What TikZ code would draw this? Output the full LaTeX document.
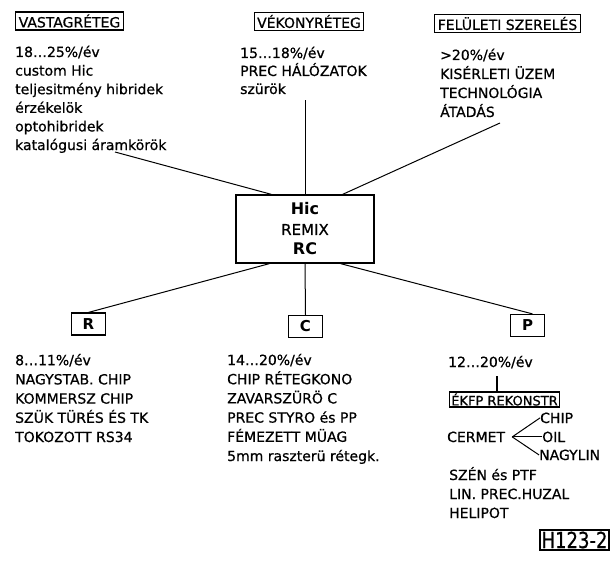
\documentclass[tikz,border=0pt]{standalone}
\usepackage{fontspec}
\setmainfont{DejaVu Sans}[UprightFeatures={FakeBold=0.7}]
\begin{document}
\begin{tikzpicture}[x=1pt,y=-1pt,
  txt/.style={anchor=base west, inner sep=0pt, align=left},
  hdr/.style={draw, line width=1.2pt, inner xsep=3pt, inner ysep=1.5pt, minimum height=18pt, font=\fontsize{14}{16}\selectfont},
  lbox/.style={draw, line width=1.2pt, minimum width=34pt, minimum height=22pt, inner sep=0pt, font=\bfseries\fontsize{15}{17}\selectfont},
  link/.style={line width=1pt}]
\useasboundingbox (0,0) rectangle (616,567);

% headers
\node[hdr] (vas) at (69.5,21) {VASTAGRÉTEG};
\node[hdr] (vek) at (309,21.5) {VÉKONYRÉTEG};
\node[hdr] (fel) at (507.5,23.5) {FELÜLETI SZERELÉS};

% top texts (anchored at the baseline of the last line)
\node[txt, font=\fontsize{14}{18.6}\selectfont] (tvas) at (15,150)
  {18…25\%/év\\custom Hic\\teljesitmény hibridek\\érzékelök\\optohibridek\\katalógusi áramkörök};
\node[txt, font=\fontsize{14}{18}\selectfont] (tvek) at (240,94)
  {15…18\%/év\\PREC HÁLÓZATOK\\szürök};
\node[txt, font=\fontsize{14}{19}\selectfont] (tfel) at (440,117)
  {>20\%/év\\KISÉRLETI ÜZEM\\TECHNOLÓGIA\\ÁTADÁS};

% central box
\node[draw, line width=1.3pt, minimum width=138pt, minimum height=68pt, align=center,
      font=\fontsize{15}{20}\selectfont] (hic) at (305,229)
  {{\bfseries\fontsize{16}{20}\selectfont Hic}\\REMIX\\{\bfseries\fontsize{16}{20}\selectfont RC}};

% letter boxes
\node[lbox] (R) at (88.5,324) {R};
\node[lbox] (C) at (305.5,326.5) {C};
\node[lbox] (P) at (527.5,325.5) {P};

% free ends of connectors
\coordinate (endTL) at (115,152);
\coordinate (endT) at (305,100);
\coordinate (endTR) at (500,123);

\draw[link] ([xshift=36pt]hic.north west) -- (endTL);
\draw[link] (hic.north) -- (endT);
\draw[link] ([xshift=-32pt]hic.north east) -- (endTR);
\draw[link] ([xshift=34pt]hic.south west) -- (R.north);
\draw[link] (hic.south) -- (C.north);
\draw[link] ([xshift=-34pt]hic.south east) -- ([xshift=5pt]P.north);

% bottom texts
\node[txt, font=\fontsize{14}{19.2}\selectfont] (tR) at (15,442)
  {8…11\%/év\\NAGYSTAB. CHIP\\KOMMERSZ CHIP\\SZÜK TÜRÉS ÉS TK\\TOKOZOTT RS34};
\node[txt, font=\fontsize{14}{19.2}\selectfont] (tC) at (227,461)
  {14…20\%/év\\CHIP RÉTEGKONO\\ZAVARSZÜRÖ C\\PREC STYRO és PP\\FÉMEZETT MÜAG\\5mm raszterü rétegk.};
\node[txt, font=\fontsize{14}{19}\selectfont] (tP) at (448,367) {12…20\%/év};

\node[draw, line width=1.1pt, inner xsep=1.5pt, inner ysep=1pt, minimum height=15pt,
      font=\fontsize{13}{15}\selectfont] (ekfp) at (504.5,399.5) {ÉKFP REKONSTR};
\coordinate (pk) at (497,376);
\draw[line width=1.6pt] (pk) -- (pk |- ekfp.north);

\node[txt, font=\fontsize{14}{16}\selectfont] (cermet) at (447,442) {CERMET};
\node[txt, font=\fontsize{14}{16}\selectfont] (chip) at (540,423) {CHIP};
\node[txt, font=\fontsize{14}{16}\selectfont] (oil) at (542,442) {OIL};
\node[txt, font=\fontsize{14}{16}\selectfont] (nagylin) at (539,460) {NAGYLIN};
\coordinate (fork) at ([xshift=7pt]cermet.east);
\draw[link] (fork) -- (chip.west);
\draw[link] (fork) -- (oil.west);
\draw[link] (fork) -- (nagylin.west);

\node[txt, font=\fontsize{14}{19}\selectfont] (tP2) at (449,518)
  {SZÉN és PTF\\LIN. PREC.HUZAL\\HELIPOT};

\node[draw, line width=1.2pt, inner xsep=1.5pt, inner ysep=1pt, minimum height=20pt,
      font=\fontsize{22}{24}\selectfont] (hid) at (574.5,540) {\scalebox{0.82}[1]{H123-2}};
\end{tikzpicture}
\end{document}
